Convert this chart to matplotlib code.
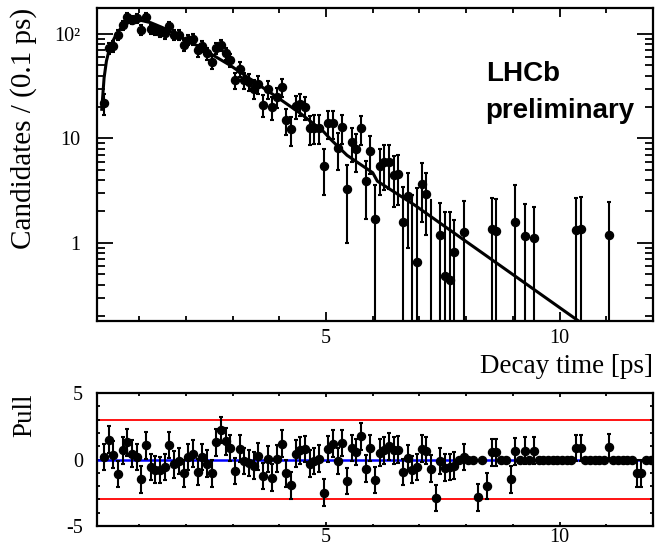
import numpy as np
import matplotlib
matplotlib.use("Agg")
import matplotlib.pyplot as plt
from matplotlib.ticker import FixedLocator, MultipleLocator, NullFormatter

plt.rcParams["font.family"] = ["Liberation Serif", "DejaVu Serif"]
plt.rcParams["axes.unicode_minus"] = False

# -----------------------------
# Data
# -----------------------------

# visible points in the decay time panel: bin centre, content, error
top_t = [0.25, 0.35, 0.45, 0.55, 0.65, 0.75, 0.85, 0.95, 1.05, 1.15,
         1.25, 1.35, 1.45, 1.55, 1.65, 1.75, 1.85, 1.95, 2.05, 2.15,
         2.25, 2.35, 2.45, 2.55, 2.65, 2.75, 2.85, 2.95, 3.05, 3.15,
         3.25, 3.35, 3.45, 3.55, 3.65, 3.75, 3.85, 3.95, 4.05, 4.15,
         4.25, 4.35, 4.45, 4.55, 4.65, 4.75, 4.85, 4.95, 5.05, 5.15,
         5.25, 5.35, 5.45, 5.55, 5.65, 5.75, 5.85, 5.95, 6.05, 6.15,
         6.25, 6.35, 6.45, 6.55, 6.65, 6.75, 6.95, 7.05, 7.15, 7.45,
         7.55, 7.65, 7.75, 7.95, 8.55, 8.65, 9.05, 9.25, 9.45, 10.35,
         10.45, 11.05]
top_val = [21.7, 73, 76, 98, 122, 146, 136, 141, 109, 146,
           111, 109, 105, 101, 119, 98, 98, 78, 88, 89,
           70, 76, 65, 54, 73, 78, 65, 56.5, 36, 46,
           36, 35, 30, 33, 21, 29.5, 20, 25, 31, 15,
           12.2, 20.4, 21.4, 19.9, 12.5, 12.7, 12.7, 5.4, 14, 14,
           8.1, 12.8, 3.3, 9.3, 7.9, 12.5, 3.9, 7.6, 1.69, 5.4,
           5.9, 6.0, 4.5, 4.6, 1.6, 2.8, 0.66, 3.7, 2.95, 1.19,
           0.48, 0.44, 0.81, 1.26, 1.36, 1.31, 1.6, 1.17, 1.11, 1.33,
           1.36, 1.2]
top_err = [5.1, 9.4, 9.5, 10.8, 12.1, 13.2, 12.8, 13.0, 11.4, 13.2,
           11.5, 11.4, 11.2, 11.0, 12.0, 10.8, 10.8, 9.7, 10.3, 10.3,
           9.2, 9.5, 8.8, 8.0, 9.4, 9.7, 8.8, 8.2, 6.6, 7.4,
           6.6, 6.5, 6.0, 6.3, 5.0, 5.9, 4.9, 5.5, 6.1, 4.2,
           3.8, 4.9, 5.1, 4.9, 3.9, 3.9, 3.9, 2.5, 4.1, 4.1,
           3.1, 3.9, 2.3, 3.3, 3.1, 3.9, 2.2, 3.0, 1.9, 2.5,
           2.7, 2.7, 2.3, 2.3, 1.8, 1.9, 2.7, 2.1, 1.75, 1.24,
           1.5, 1.55, 0.85, 1.28, 1.35, 1.31, 2.0, 1.19, 1.11, 1.35,
           1.38, 1.25]

# bins whose point lies below the axis, only the upper error bar shows
low_t = [6.85, 7.25]
low_top = [2.9, 2.55]

# fit curve, read as knots
fit_t = [0.2, 0.25, 0.3, 0.35, 0.4, 0.5, 0.6, 0.7, 0.8, 0.9, 1.0, 1.25,
         1.5, 2.1, 2.95, 3.5, 4.0, 4.45, 4.95, 5.1, 5.45, 6.0, 6.1, 6.9,
         7.6, 8.3, 10.4, 12.0]
fit_val = [19, 38, 55, 68, 79, 97, 112, 123, 130, 134, 136, 128,
           115, 84, 50, 34, 24, 17.4, 11.6, 9.8, 6.9, 4.7, 3.9, 2.3,
           1.38, 0.83, 0.18, 0.056]

# pulls, one per bin from 0.25 to 11.95 ps
pull_t = np.round(np.arange(0.25, 12.0, 0.1), 2)
pull_val = [0.2, 1.5, 0.37, -1.1, 0.7, 1.3, 0.45, 0.2, -1.5, 1.07,
            -0.55, -0.75, -0.8, -0.55, 1.1, -0.37, -0.12, -1.04, 0.2, 0.45,
            -0.94, 0.2, -0.3, -1.04, 1.3, 2.23, 1.36, 0.87, -0.87, 0.82,
            -0.12, -0.25, -0.45, 0.25, -1.24, 0.05, -1.36, 0.07, 1.19, -1.04,
            -1.94, 0.45, 0.7, 0.8, -0.3, -0.12, 0.07, -2.48, 0.8, 1.19,
            -0.12, 1.24, -1.61, 0.87, 0.57, 1.74, -0.69, 0.87, -1.54, 0.52,
            0.7, 1.0, 0.7, 0.75, -0.94, 0.12, -0.75, -0.55, 0.82, 0.67,
            -0.69, -2.9, -0.12, -0.62, -0.55, -0.45, 0, 0.2, 0, 0,
            -2.85, 0, -1.99, 0.55, 0.55, 0, 0, -1.49, 0.62, 0,
            0.67, 0, 0.67, 0, 0, 0, 0, 0, 0, 0,
            0, 0.87, 0.87, 0, 0, 0, 0, 0, 0.94, 0,
            0, 0, 0, 0, -1.04, -1.04, 0, 0]
pull_err = [1, 1, 1, 1, 1, 1, 1, 1, 1, 1,
            1, 1, 1, 1, 1, 1, 1, 1, 1, 1,
            1, 1, 1, 1, 1, 1, 1, 1, 1, 1,
            1, 1, 1, 1, 1, 1, 1, 1, 1, 1,
            1, 1, 1, 1, 1, 1, 1, 1, 1, 1,
            1, 1, 1, 1, 1, 1, 1, 1, 1, 1,
            1, 1, 1, 1, 1, 1, 1, 1, 1, 1,
            1, 1, 1, 1, 1, 1, 0, 1, 0, 0,
            1, 0, 1, 1, 1, 0, 0, 1, 1, 0,
            1, 0, 1, 0, 0, 0, 0, 0, 0, 0,
            0, 1, 1, 0, 0, 0, 0, 0, 1, 0,
            0, 0, 0, 0, 1, 1, 0, 0]

# -----------------------------
# Figure
# -----------------------------

fig = plt.figure(figsize=(6.56, 5.48), dpi=100)
ax1 = fig.add_axes([0.148, 0.4142, 0.8474, 0.5712])
ax2 = fig.add_axes([0.148, 0.0401, 0.8474, 0.2427])

label_size = 14.5
title_size = 19.5

# -----------------------------
# Top panel
# -----------------------------

top_val_a = np.array(top_val)
top_err_a = np.array(top_err)
lo = np.minimum(top_err_a, top_val_a - 1e-3)

ax1.errorbar(top_t, top_val_a, yerr=[lo, top_err_a], fmt="o", color="black",
             ms=5.8, elinewidth=1.5, capsize=1.6, capthick=1.5, zorder=3)
ax1.vlines(low_t, 1e-3, low_top, color="black", lw=1.5, zorder=3)
ax1.hlines(low_top, np.array(low_t) - 0.03, np.array(low_t) + 0.03,
           color="black", lw=1.5, zorder=3)

ax1.plot(fit_t, fit_val, color="black", lw=2.2, zorder=4)

ax1.set_yscale("log")
ax1.set_xlim(0.1, 12.0)
ax1.set_ylim(0.179, 177)

ax1.yaxis.set_major_locator(FixedLocator([1, 10, 100]))
ax1.set_yticklabels(["1", "10", "10\u00b2"])
ax1.yaxis.set_minor_locator(FixedLocator(
    [k * 10.0 ** e for e in (-1, 0, 1, 2) for k in range(2, 10)]))
ax1.yaxis.set_minor_formatter(NullFormatter())

ax1.xaxis.set_major_locator(FixedLocator([5, 10]))
ax1.xaxis.set_minor_locator(MultipleLocator(1))

ax1.tick_params(axis="x", which="major", direction="in", top=True,
                length=6.5, width=1.3, labelsize=label_size, pad=6)
ax1.tick_params(axis="x", which="minor", direction="in", top=True,
                length=3.4, width=1.3)
ax1.tick_params(axis="y", which="major", direction="in", right=True,
                length=11.5, width=1.3, labelsize=label_size, pad=12)
ax1.tick_params(axis="y", which="minor", direction="in", right=True,
                length=5.8, width=1.3)

for s in ax1.spines.values():
    s.set_linewidth(1.6)

ax1.set_xlabel("Decay time [ps]", fontsize=title_size, loc="right")
ax1.set_ylabel("Candidates / (0.1 ps)", fontsize=21, loc="top")
ax1.yaxis.set_label_coords(-0.108, 1.0)

ax1.text(0.699, 0.79, "LHCb", transform=ax1.transAxes, fontsize=20,
         fontweight="bold", family="Liberation Sans", va="center", ha="left")
ax1.text(0.699, 0.672, "preliminary", transform=ax1.transAxes, fontsize=20,
         fontweight="bold", family="Liberation Sans", va="center", ha="left")

# -----------------------------
# Pull panel
# -----------------------------

ax2.axhline(3, color="red", lw=1.3, zorder=1)
ax2.axhline(-3, color="red", lw=1.3, zorder=1)
ax2.axhline(0, color="blue", lw=1.8, zorder=2)

pull_val_a = np.array(pull_val)
pull_err_a = np.array(pull_err)
ax2.errorbar(pull_t, pull_val_a, yerr=pull_err_a, fmt="o", color="black",
             ms=5.8, elinewidth=1.5, capsize=1.6, capthick=1.5, zorder=3)

ax2.set_xlim(0.1, 12.0)
ax2.set_ylim(-5, 5)
ax2.xaxis.set_major_locator(FixedLocator([5, 10]))
ax2.xaxis.set_minor_locator(MultipleLocator(1))
ax2.yaxis.set_major_locator(FixedLocator([-5, 0, 5]))
ax2.yaxis.set_minor_locator(MultipleLocator(1))
ax2.set_yticklabels(["-5", "0", "5"])

ax2.tick_params(axis="x", which="major", direction="in", top=True,
                length=3, width=1.3, labelsize=label_size, pad=1.5)
ax2.tick_params(axis="x", which="minor", direction="in", top=True,
                length=1.8, width=1.3)
ax2.tick_params(axis="y", which="major", direction="in", right=True,
                length=5, width=1.3, labelsize=label_size, pad=10)
ax2.tick_params(axis="y", which="minor", direction="in", right=True,
                length=2.5, width=1.3)

for s in ax2.spines.values():
    s.set_linewidth(1.6)

ax2.set_ylabel("Pull", fontsize=title_size, loc="top")
ax2.yaxis.set_label_coords(-0.108, 1.0)

fig.savefig("out.png", dpi=100)
